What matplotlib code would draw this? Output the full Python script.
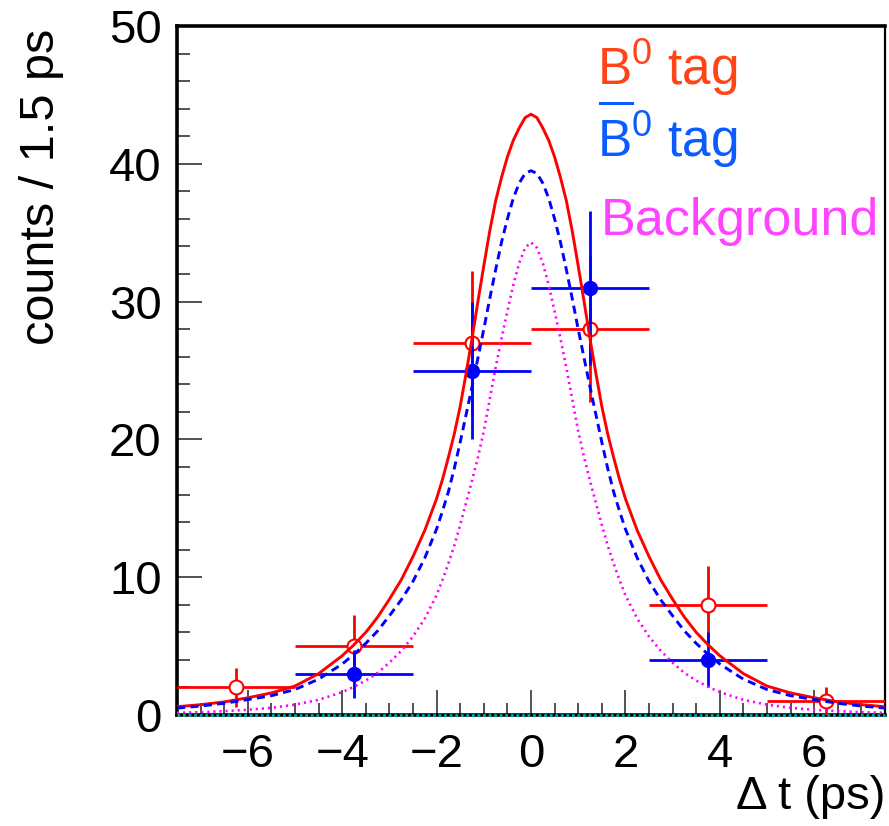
import numpy as np
import matplotlib
matplotlib.use("Agg")
import matplotlib.pyplot as plt
from matplotlib.ticker import MultipleLocator
from matplotlib.lines import Line2D

plt.rcParams['font.family'] = ['Liberation Sans', 'DejaVu Sans']
plt.rcParams['mathtext.fontset'] = 'custom'
plt.rcParams['mathtext.rm'] = 'Liberation Sans'
plt.rcParams['mathtext.it'] = 'Liberation Sans:italic'

# histogram bins (centre, half width 1.25 ps)
bin_centers = [-6.25, -3.75, -1.25, 1.25, 3.75, 6.25]
bin_half = 1.25
b0_counts = [2, 5, 27, 28, 8, 1]
b0bar_counts = [0, 3, 25, 31, 4, 0]

# fit curves for |dt| >= 0 (symmetric)
t_half = [0, 0.125, 0.25, 0.375, 0.5, 0.625, 0.75, 0.875, 1.0, 1.125, 1.25,
          1.375, 1.5, 1.625, 1.75, 1.875, 2.0, 2.25, 2.5, 2.75, 3.0, 3.25,
          3.5, 3.75, 4.0, 4.5, 5.0, 5.5, 6.0, 6.5, 7.0, 7.5]
b0_fit = [43.6, 43.35, 42.6, 41.7, 40.5, 39.0, 37.3, 35.1, 32.6, 30.0, 27.3,
          24.8, 22.4, 20.4, 18.7, 17.1, 15.7, 13.4, 11.5, 9.8, 8.4, 7.1,
          6.0, 5.1, 4.3, 3.0, 2.1, 1.6, 1.25, 0.95, 0.75, 0.6]
b0bar_fit = [39.5, 39.3, 38.6, 37.5, 36.0, 34.3, 32.3, 30.2, 28.0, 25.9, 23.8,
             21.8, 19.8, 17.9, 16.2, 14.8, 13.5, 11.4, 9.7, 8.35, 7.2, 6.1,
             5.2, 4.4, 3.7, 2.6, 1.85, 1.4, 1.12, 0.85, 0.65, 0.5]
bkg_fit = [34.3, 33.9, 32.8, 31.2, 29.3, 27.3, 25.2, 22.9, 20.6, 18.7, 17.0,
           15.4, 13.8, 12.3, 11.0, 9.8, 8.7, 7.0, 5.7, 4.65, 3.8, 3.05,
           2.5, 2.05, 1.66, 1.1, 0.75, 0.52, 0.38, 0.28, 0.2, 0.16]


def mirror(t, y):
    t = np.asarray(t)
    y = np.asarray(y)
    return (np.concatenate([-t[::-1], t[1:]]),
            np.concatenate([y[::-1], y[1:]]))


W, H = 889, 826
fig = plt.figure(figsize=(W / 100, H / 100), dpi=100)
ax = fig.add_axes([177 / W, 111 / H, (885 - 177) / W, (715 - 26) / H])

# data points
x = np.array(bin_centers)
r = np.array(b0_counts, dtype=float)
b = np.array(b0bar_counts, dtype=float)
ax.errorbar(x, r, xerr=bin_half, yerr=np.sqrt(r), fmt='o', ms=10,
            mfc='white', mec='red', mew=1.5, ecolor='red', elinewidth=2,
            capsize=0, zorder=3)
m = b > 0
ax.errorbar(x[m], b[m], xerr=bin_half, yerr=np.sqrt(b[m]), fmt='o', ms=10,
            mfc='blue', mec='blue', ecolor='blue', elinewidth=2,
            capsize=0, zorder=4)

# fit curves
tt, yy = mirror(t_half, b0_fit)
ax.plot(tt, yy, color='red', lw=2.1, zorder=5)
tt, yy = mirror(t_half, b0bar_fit)
ax.plot(tt, yy, color='blue', lw=2.1, ls=(0, (2.8, 1.8)), zorder=5)
tt, yy = mirror(t_half, bkg_fit)
ax.plot(tt, yy, color='#ff00ff', lw=1.9, ls=(0, (0.8, 1.5)), zorder=5)

# empty histogram drawn along zero
ax.plot([-7.5, 7.5], [0, 0], color='#00a8a8', lw=2.0, ls=(0, (1, 1)),
        zorder=6, clip_on=False)

ax.set_xlim(-7.5, 7.5)
ax.set_ylim(0, 50)
ax.xaxis.set_major_locator(MultipleLocator(2))
ax.xaxis.set_minor_locator(MultipleLocator(0.5))
ax.yaxis.set_major_locator(MultipleLocator(10))
ax.yaxis.set_minor_locator(MultipleLocator(2))
ax.tick_params(which='both', direction='in', top=False, right=False,
               color='#444444', width=1.3, labelsize=34)
ax.tick_params(which='major', length=18)
ax.tick_params(which='minor', length=9)
ax.tick_params(axis='y', pad=11)
ax.tick_params(axis='x', pad=13)

for side, lw in [('left', 2.6), ('top', 2.6), ('right', 1.6), ('bottom', 2.6)]:
    ax.spines[side].set_linewidth(lw)

fig.text(42 / W, 1 - 29 / H, 'counts / 1.5 ps', rotation=90, ha='center',
         va='top', fontsize=35)
fig.text(885 / W, 1 - 797 / H, '\u0394 t (ps)', ha='right', va='center',
         fontsize=34)

# legend text
fig.text(597 / W, 1 - 85 / H, r'$\mathrm{B}^{0}$ tag', color='#ff4416',
         fontsize=37, va='baseline')
fig.text(597 / W, 1 - 157 / H, r'$\mathrm{B}^{0}$ tag', color='#0a5cff',
         fontsize=37, va='baseline')
fig.add_artist(Line2D([600 / W, 632 / W], [1 - 103 / H, 1 - 103 / H],
                      color='#0a5cff', lw=2.2, transform=fig.transFigure))
fig.text(601 / W, 1 - 235 / H, 'Background', color='#ff44ff',
         fontsize=37.5, va='baseline')

fig.savefig('out.png', dpi=100)
